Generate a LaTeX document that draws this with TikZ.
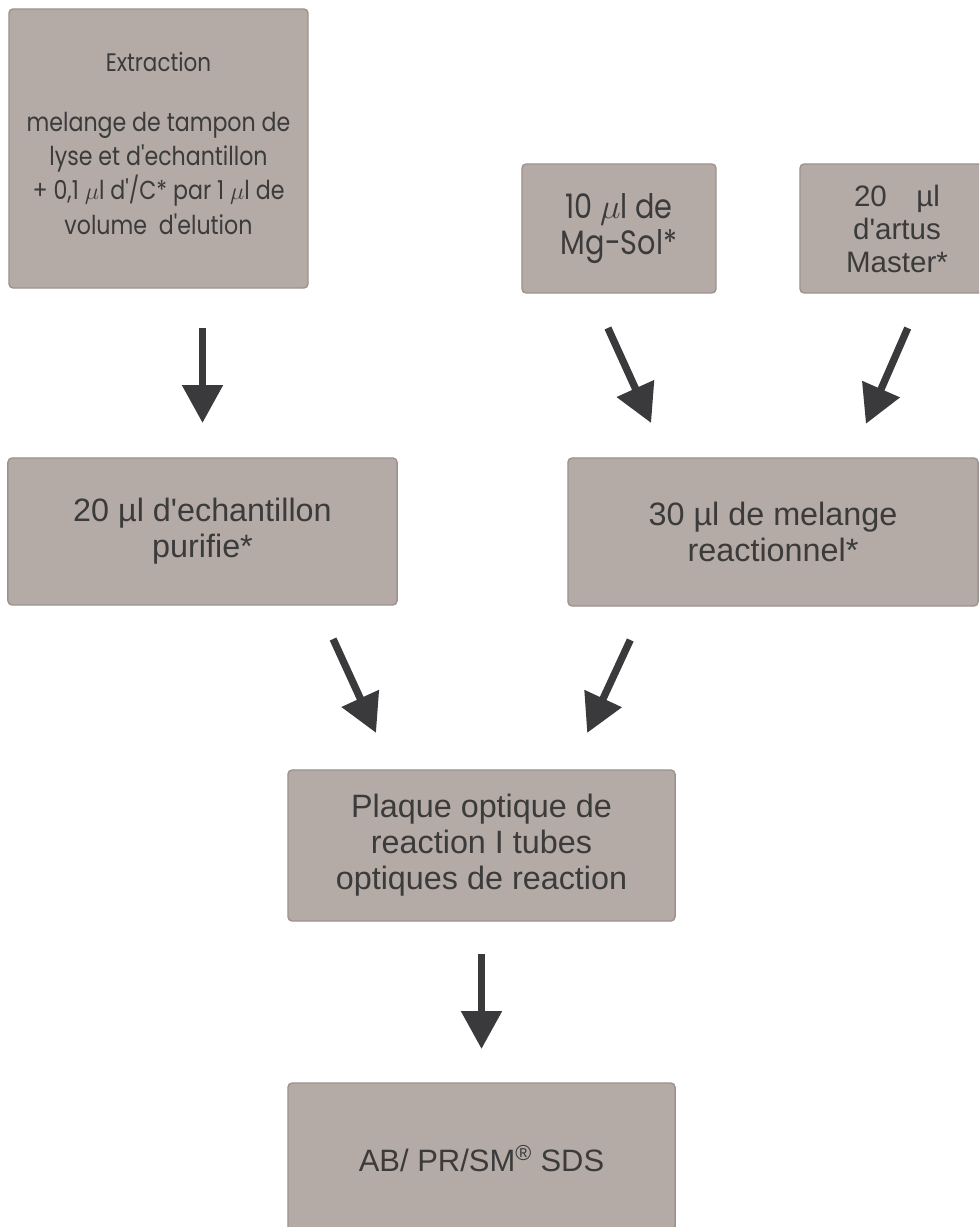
\documentclass[tikz,border=0pt]{standalone}
\usepackage{fontspec}
\newfontfamily\arialfont{Liberation Sans}
\newfontfamily\geofont[FakeStretch=0.85]{Poppins}
\usetikzlibrary{arrows.meta,calc}

\definecolor{boxfill}{HTML}{B4AAA6}
\definecolor{boxedge}{HTML}{9E928E}
\definecolor{ink}{HTML}{3B3B3B}
\definecolor{arrowink}{HTML}{3A3A3C}

\begin{document}
\begin{tikzpicture}[
  x=0.025cm, y=-0.025cm,
  stage/.style={draw=boxedge, fill=boxfill, rounded corners=3pt, line width=1pt, inner sep=0pt, outer sep=0pt, align=center, text=ink},
  geo/.style={font=\geofont\fontsize{18.5}{24.5}\selectfont},
  ari/.style={font=\arialfont\fontsize{23}{25.6}\selectfont},
  flow/.style={-{Triangle[width=28pt,length=27pt]}, line width=5.2pt, draw=arrowink}]
\path[use as bounding box, fill=white] (0,0) rectangle (979,1227);
\clip (0,0) rectangle (979,1227);
\node[stage, geo, minimum width=7.475cm, minimum height=6.975cm] (extr) at (158.5,148.5) {{\fontsize{18}{24.5}\selectfont Extraction}\\[17.5pt]melange de tampon de\\lyse et d'echantillon\\+ 0,1 $\mu$l d'/C* par 1 $\mu$l de\\volume\ \ d'elution\\[-17.5pt]};
\node[stage, geo, font=\geofont\fontsize{24}{25.6}\selectfont, minimum width=4.85cm, minimum height=3.225cm] (mg) at (619,228.5) {10 $\mu$l de\\Mg-Sol*};
\node[stage, ari, font=\arialfont\fontsize{21}{23.5}\selectfont, minimum width=4.85cm, minimum height=3.225cm] (artus) at (897,228.5) {20\quad µl\\d'artus\\Master*};
\node[stage, ari, minimum width=9.725cm, minimum height=3.675cm] (purif) at (202.5,531.5) {20 µl d'echantillon\\purifie*};
\node[stage, ari, minimum width=10.25cm, minimum height=3.7cm] (reac) at (773,532) {30 µl de melange\\reactionnel*};
\node[stage, ari, minimum width=9.675cm, minimum height=3.775cm] (plaque) at (481.5,845.5) {Plaque optique de\\reaction I tubes\\optiques de reaction};
\node[stage, ari, font=\arialfont\fontsize{22}{25.6}\selectfont, minimum width=9.675cm, minimum height=3.775cm] (sds) at (481.5,1158.5) {AB/ PR/SM\textsuperscript{®} SDS};
\draw[flow, shorten <=1cm, shorten >=0.875cm] (purif.north |- extr.south) -- (purif.north);
\draw[flow, shorten <=0.96cm, shorten >=0.96cm] ($(mg.south)+(-27,0)$) -- ($(reac.north)+(-106,0)$);
\draw[flow, shorten <=0.955cm, shorten >=0.93cm] ($(artus.south)+(26,0)$) -- ($(reac.north)+(78,0)$);
\draw[flow, shorten <=0.935cm, shorten >=1.02cm] ($(purif.south)+(115,0)$) -- ($(plaque.north)+(-88.5,0)$);
\draw[flow, shorten <=0.935cm, shorten >=1.02cm] ($(reac.south)+(-127,0)$) -- ($(plaque.north)+(88.5,0)$);
\draw[flow, shorten <=0.825cm, shorten >=0.85cm] (plaque.south) -- (sds.north);
\end{tikzpicture}
\end{document}
